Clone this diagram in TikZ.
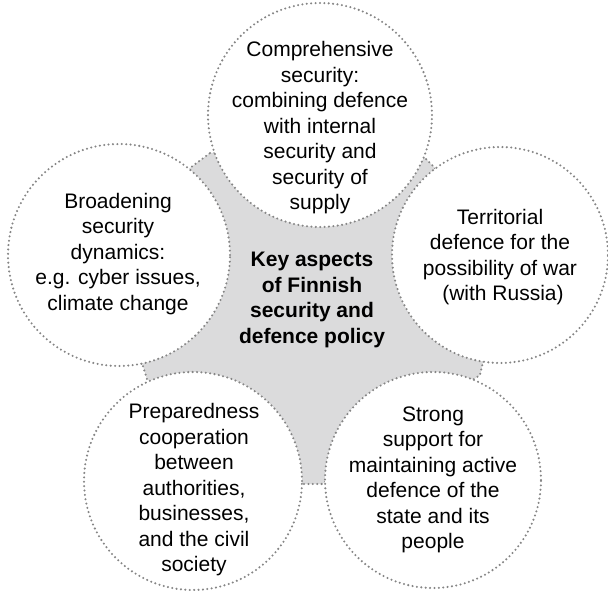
\documentclass[tikz,border=0pt]{standalone}
\usepackage{fontspec}
\setmainfont{Liberation Sans}

\definecolor{coregrey}{HTML}{DBDBDC}
\definecolor{dotgrey}{HTML}{858585}

\tikzset{
  dotline/.style={draw=dotgrey, line width=2.3pt, line cap=round, dash pattern=on 0pt off 4.4pt},
  bubble/.style={circle, dotline, fill=white, inner sep=0pt},
  aspect/.style={align=center, font=\fontsize{21}{25.5}\selectfont, inner sep=0pt},
}

\begin{document}
\begin{tikzpicture}[x=1pt,y=-1pt]
	\useasboundingbox (0,0) rectangle (608,591);

            % grey core behind the circles
            \filldraw[fill=coregrey, dotline] (210,153) -- (417,150) -- (435,168) -- (483,362) -- (480,375)
              -- (322,484) -- (303,484) -- (147,379) -- (142,363) -- (190,168) -- cycle;

            % the five circles
            \node[bubble, minimum size=224pt] (ctop)   at (320,115) {};
            \node[bubble, minimum size=222pt] (cleft)  at (119,255) {};
            \node[bubble, minimum size=216pt] (cright) at (500,255) {};
            \node[bubble, minimum size=218pt] (cbl)    at (193,481) {};
            \node[bubble, minimum size=216pt] (cbr)    at (433,480) {};

            \node[aspect] (ttop) at (320,128) {Comprehensive\\security:\\combining defence\\with internal\\security and\\security of\\supply};
            \node[aspect] (tleft) at (118,254) {Broadening\\security\\dynamics:\\e.g. cyber issues,\\climate change};
            \node[aspect] (tright) at (500,257) {Territorial\\defence for the\\possibility of war\\\hspace{6pt}(with Russia)};
            \node[aspect] (tbl) at (194,490) {Preparedness\\cooperation\\between\\authorities,\\businesses,\\and the civil\\society};
            \node[aspect] (tbr) at (433,480) {Strong\\support for\\maintaining active\\defence of the\\state and its\\people};

          \node[aspect, font=\fontsize{21}{25.5}\selectfont\bfseries] (core) at (312,300) {Key aspects\\of Finnish\\security and\\defence policy};
        \end{tikzpicture}
\end{document}
